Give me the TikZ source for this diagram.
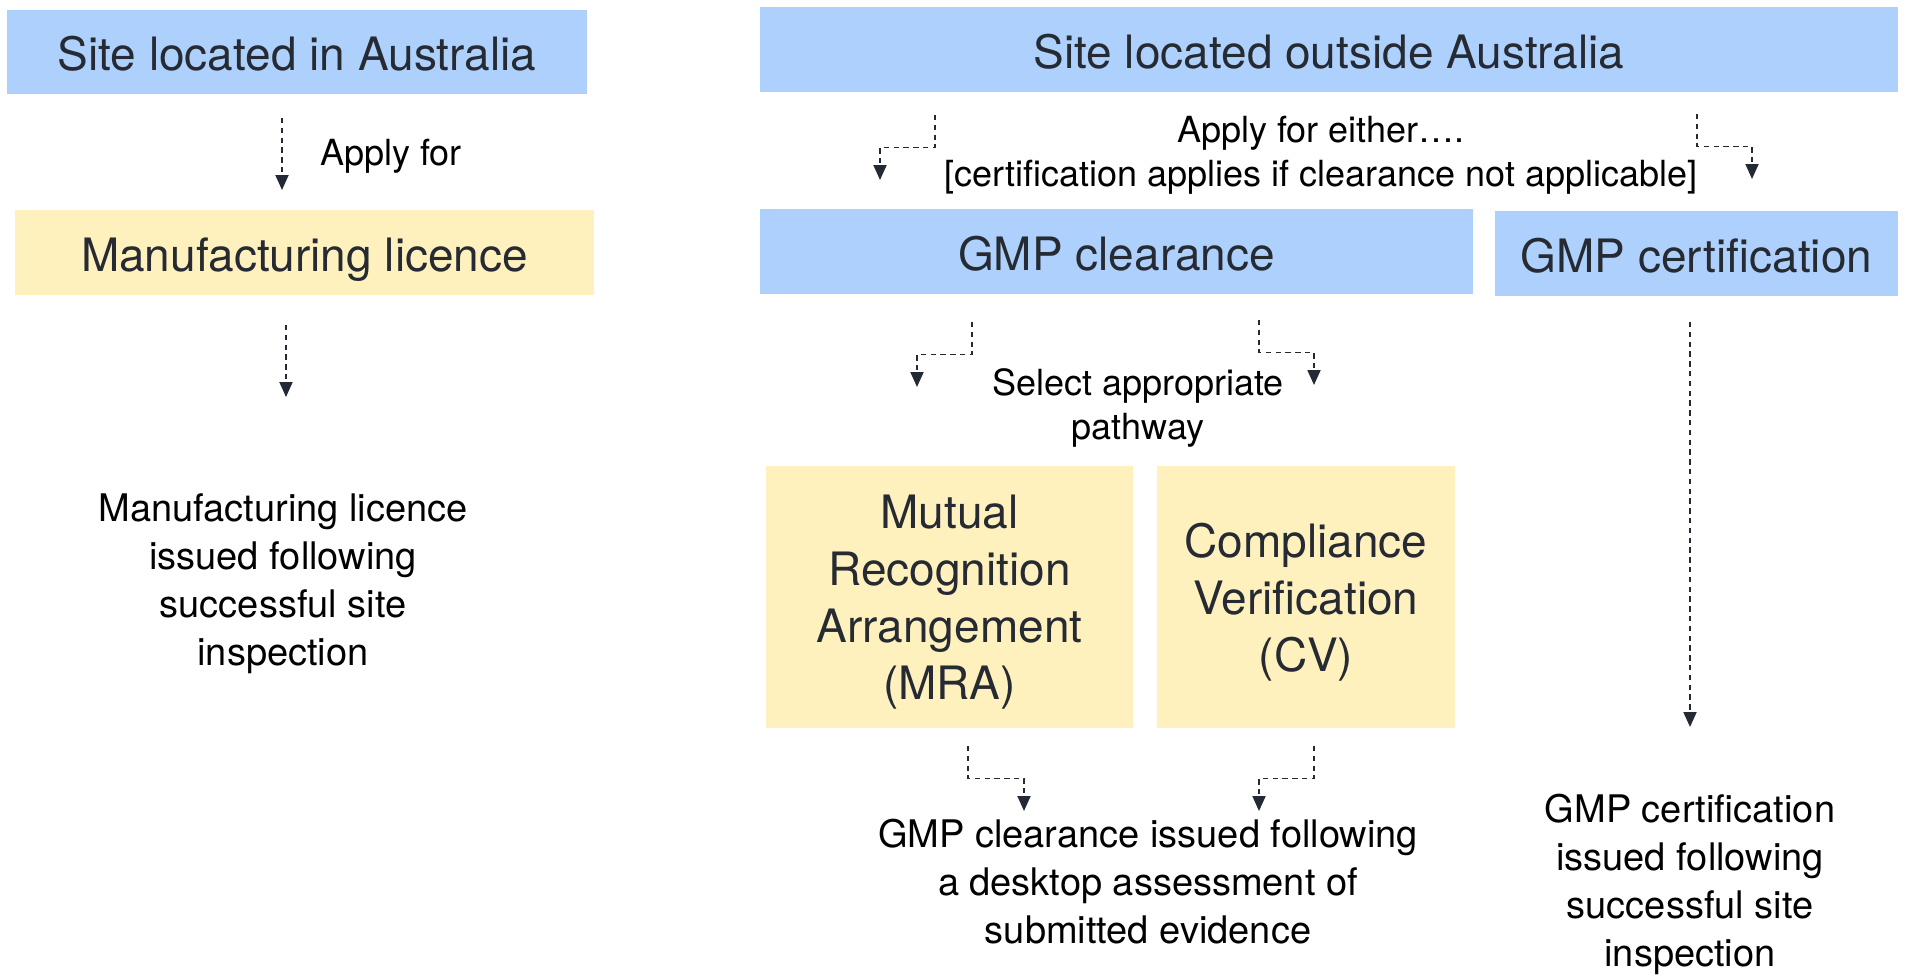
\documentclass[tikz,border=0pt]{standalone}
\usepackage{fontspec}
\setmainfont{TeX Gyre Heros}
\usetikzlibrary{arrows.meta,calc}
\definecolor{boxblue}{HTML}{AED0FC}
\definecolor{boxyellow}{HTML}{FFF1BE}
\definecolor{ink}{HTML}{262B33}
\definecolor{arrowc}{HTML}{232A35}
\begin{document}
\begin{tikzpicture}[x=0.5pt,y=-0.5pt,
  box/.style={draw=none, inner sep=0pt, text=ink, align=center, text depth=0pt, font=\fontsize{23}{28.5}\selectfont},
  oneline/.style={text height=18.5pt},
  bluebox/.style={box, fill=boxblue},
  yellowbox/.style={box, fill=boxyellow},
  label/.style={inner sep=0pt, text=black, align=center, font=\fontsize{18}{22}\selectfont},
  para/.style={inner sep=0pt, text=black, align=center, font=\fontsize{19}{24}\selectfont},
  arr/.style={draw=arrowc, line width=0.95pt, dash pattern=on 2.7pt off 2.2pt, -{Triangle[width=6.5pt,length=7.5pt]}}]
\useasboundingbox[fill=white] (0,0) rectangle (1906,975);

% boxes
\node[bluebox, oneline, minimum width=290pt, minimum height=42pt] (aus) at (297,52) {Site located in Australia};
\node[yellowbox, oneline, minimum width=289.5pt, minimum height=42.5pt] (lic) at (304.5,252.5) {Manufacturing licence};
\node[bluebox, oneline, minimum width=569pt, minimum height=42.5pt] (out) at (1329,49.5) {Site located outside Australia};
\node[bluebox, oneline, minimum width=356.5pt, minimum height=42.5pt] (clr) at (1116.5,251.5) {GMP clearance};
\node[bluebox, oneline, minimum width=201.5pt, minimum height=42.5pt] (cert) at (1696.5,253.5) {GMP certification};
\node[yellowbox, minimum width=183.5pt, minimum height=131pt] (mra) at (949.5,597) {Mutual\\Recognition\\Arrangement\\(MRA)};
\node[yellowbox, minimum width=149pt, minimum height=131pt] (cv) at (1306,597) {Compliance\\Verification\\(CV)};

% labels
\node[label, anchor=west] (applyfor) at (320,156.5) {Apply for};
\node[label] (either) at (1321,155) {Apply for either….\\{}[certification applies if clearance not applicable]};
\node[label] (select) at (1138,408) {Select appropriate\\pathway};
\node[para] (licissued) at (283,584) {Manufacturing licence\\issued following\\successful site\\inspection};
\node[para] (clrissued) at (1148,881.5) {GMP clearance issued following\\a desktop assessment of\\submitted evidence};
\node[para] (certissued) at (1690,884) {GMP certification\\issued following\\successful site\\inspection};

% connector end points
\coordinate (a1s) at (282,118); \coordinate (a1e) at (282,190);
\coordinate (a2s) at (286,325); \coordinate (a2e) at (286,397);
\coordinate (a3s) at (935,115); \coordinate (a3e) at (880,180);
\coordinate (a4s) at (1697,114); \coordinate (a4e) at (1752,179);
\coordinate (a5s) at (972,322); \coordinate (a5e) at (917,387);
\coordinate (a6s) at (1259,320); \coordinate (a6e) at (1314,385);
\coordinate (a7s) at (968,746); \coordinate (a7e) at (1024,811);
\coordinate (a8s) at (1314,746); \coordinate (a8e) at (1259,811);
\coordinate (a9s) at (1690,322); \coordinate (a9e) at (1690,727);

% connectors
\draw[arr] (a1s) -- (a1e);
\draw[arr] (a2s) -- (a2e);
\draw[arr] (a9s) -- (a9e);
\foreach \n in {3,4,5,6,7,8}{
  \draw[arr] (a\n s) |- ($(a\n s)!0.5!(a\n e)$) -| (a\n e);
}
\end{tikzpicture}
\end{document}
